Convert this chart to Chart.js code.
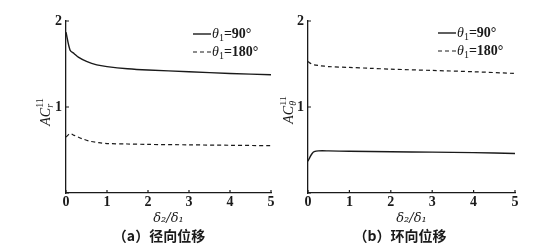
<!DOCTYPE html>
<html>
<head>
<meta charset="utf-8">
<script src="https://cdn.jsdelivr.net/npm/chart.js@4/dist/chart.umd.min.js"></script>
<style>
  html, body { margin: 0; padding: 0; background: #fff; }
  body { width: 538px; height: 249px; position: relative; overflow: hidden; }
  canvas { position: absolute; top: 0; }
  #c1 { left: 0; }
  #c2 { left: 280px; }
</style>
</head>
<body>
<canvas id="c1" width="280" height="249"></canvas>
<canvas id="c2" width="258" height="249"></canvas>
<script>
// ---------- data ----------
const xTicks = [0, 1, 2, 3, 4, 5];
const yTicks = [0, 1, 2];
const legendLabels = ['90°', '180°'];           // θ1 values
const xTitle = 'δ₂/δ₁';
const captions = ['（a）径向位移', '（b）环向位移'];
const yTitleSubs = ['r', 'θ'];                 // AC_sub^11

// (a) radial
const aX90  = [0, 0.1, 0.2, 0.3, 0.5, 0.75, 1, 1.5, 2, 3, 4, 5];
const aY90  = [1.87, 1.66, 1.62, 1.58, 1.53, 1.49, 1.47, 1.445, 1.43, 1.41, 1.39, 1.375];
const aX180 = [0, 0.1, 0.2, 0.4, 0.6, 0.8, 1, 1.5, 2, 3, 4, 5];
const aY180 = [0.65, 0.69, 0.67, 0.63, 0.60, 0.585, 0.575, 0.57, 0.565, 0.56, 0.555, 0.55];

// (b) circumferential
const bX90  = [0, 0.05, 0.1, 0.15, 0.25, 0.5, 1, 2, 3, 4, 5];
const bY90  = [0.37, 0.42, 0.46, 0.48, 0.49, 0.49, 0.485, 0.48, 0.475, 0.47, 0.46];
const bX180 = [0, 0.05, 0.15, 0.3, 0.5, 1, 1.5, 2, 3, 4, 5];
const bY180 = [1.53, 1.51, 1.49, 1.48, 1.47, 1.46, 1.45, 1.44, 1.425, 1.41, 1.39];

// ---------- helpers ----------
const INK = '#1a1a1a';
const DASH = [4, 3];
const pts = (xs, ys) => xs.map((x, i) => ({x: x, y: ys[i]}));

const tickPlugin = {
  id: 'inTicks',
  afterDraw(chart) {
    const ctx = chart.ctx, xs = chart.scales.x, ys = chart.scales.y, a = chart.chartArea;
    ctx.save();
    ctx.strokeStyle = INK; ctx.lineWidth = 1.2;
    ctx.beginPath();
    xTicks.forEach(v => { const p = xs.getPixelForValue(v); ctx.moveTo(p, a.bottom); ctx.lineTo(p, a.bottom - 3); });
    yTicks.forEach(v => { const p = ys.getPixelForValue(v); ctx.moveTo(a.left, p); ctx.lineTo(a.left + 3, p); });
    ctx.stroke();
    ctx.restore();
  }
};

function makeYTitlePlugin(sub, cx, cy) {
  return {
    id: 'yTitle',
    afterDraw(chart) {
      const ctx = chart.ctx;
      ctx.save();
      ctx.translate(cx, cy);
      ctx.rotate(-Math.PI / 2);
      ctx.fillStyle = INK;
      ctx.textBaseline = 'alphabetic';
      const big = 'italic 14px "Liberation Serif"', small = 'italic 10px "Liberation Serif"', smallR = '10px "Liberation Serif"';
      ctx.font = big; const wAC = ctx.measureText('AC').width;
      ctx.font = small; const wSub = ctx.measureText(sub).width;
      ctx.font = smallR; const wSup = ctx.measureText('11').width;
      const total = wAC + Math.max(wSub, wSup);
      const x0 = -total / 2;
      const base = 5;
      ctx.font = big; ctx.fillText('AC', x0, base);
      ctx.font = small; ctx.fillText(sub, x0 + wAC, base + 3);
      ctx.font = smallR; ctx.fillText('11', x0 + wAC, base - 7);
      ctx.restore();
    }
  };
}

function makeLegendPlugin(lx, ly, len) {
  return {
    id: 'legendBox',
    afterDraw(chart) {
      const ctx = chart.ctx;
      ctx.save();
      chart.data.datasets.forEach((ds, i) => {
        const y = ly + i * 18;
        ctx.strokeStyle = ds.borderColor; ctx.lineWidth = ds.borderWidth;
        ctx.setLineDash(ds.borderDash || []);
        ctx.beginPath(); ctx.moveTo(lx, y); ctx.lineTo(lx + len, y); ctx.stroke();
        ctx.setLineDash([]);
        ctx.fillStyle = INK; ctx.textBaseline = 'middle';
        let x = lx + len + 1;
        ctx.font = 'italic 14px "Liberation Serif"'; ctx.fillText('θ', x, y);
        x += ctx.measureText('θ').width;
        ctx.font = '10px "Liberation Serif"'; ctx.fillText('1', x, y + 4);
        x += ctx.measureText('1').width;
        ctx.font = 'bold 14px "Liberation Serif"'; ctx.fillText('=' + legendLabels[i], x, y);
      });
      ctx.restore();
    }
  };
}

function makeChart(id, d90, d180, caption, pad, yWidth, sub, yTitlePos, legendPos) {
  return new Chart(document.getElementById(id), {
    type: 'line',
    data: {
      datasets: [
        { label: 'θ1=' + legendLabels[0], data: d90, borderColor: INK, borderWidth: 1.4, pointRadius: 0, tension: 0.3, fill: false },
        { label: 'θ1=' + legendLabels[1], data: d180, borderColor: INK, borderWidth: 1.2, borderDash: DASH, pointRadius: 0, tension: 0.3, fill: false }
      ]
    },
    options: {
      responsive: false,
      animation: false,
      devicePixelRatio: 1,
      layout: { padding: pad },
      scales: {
        x: {
          type: 'linear', min: 0, max: 5,
          afterBuildTicks: s => { s.ticks = xTicks.map(v => ({value: v})); },
          afterFit: s => { s.height = 34.2; },
          grid: { display: true, drawOnChartArea: false, drawTicks: false },
          border: { display: true, color: INK, width: 1.3 },
          ticks: { color: INK, padding: 1, maxRotation: 0, font: { family: 'Liberation Serif', size: 14, weight: 'bold' } },
          title: { display: true, text: xTitle, color: INK, padding: { top: 0, bottom: 1 }, font: { family: 'DejaVu Serif', size: 13, style: 'italic' } }
        },
        y: {
          type: 'linear', min: 0, max: 2,
          afterBuildTicks: s => { s.ticks = yTicks.map(v => ({value: v})); },
          afterFit: s => { s.width = yWidth; },
          grid: { display: true, drawOnChartArea: false, drawTicks: false },
          border: { display: true, color: INK, width: 1.3 },
          ticks: { color: INK, padding: 4, callback: v => (v === 0 ? '' : String(v)), font: { family: 'Liberation Serif', size: 14, weight: 'bold' } }
        }
      },
      plugins: {
        legend: { display: false },
        tooltip: { enabled: false },
        title: { display: true, position: 'bottom', text: caption, color: INK, padding: 0, font: { family: 'Noto Sans CJK SC', size: 14, weight: 'bold' } }
      }
    },
    plugins: [tickPlugin, makeYTitlePlugin(sub, yTitlePos[0], yTitlePos[1]), makeLegendPlugin(legendPos[0], legendPos[1], 18)]
  });
}

makeChart('c1', pts(aX90, aY90), pts(aX180, aY180), captions[0],
  { left: 47, right: 9, top: 21, bottom: 5 }, 19, yTitleSubs[0], [44.5, 112], [193, 34]);
makeChart('c2', pts(bX90, bY90), pts(bX180, bY180), captions[1],
  { left: 5, right: 23, top: 21, bottom: 5 }, 23, yTitleSubs[1], [8, 110], [158, 33]);
</script>
</body>
</html>
